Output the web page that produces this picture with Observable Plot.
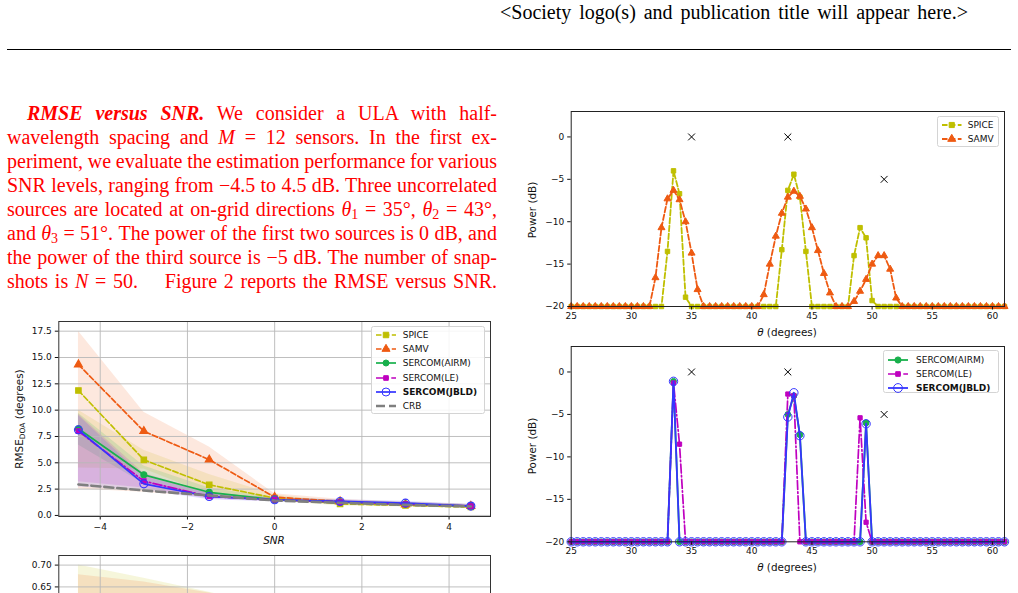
<!DOCTYPE html>
<html><head><meta charset="utf-8">
<script src="https://cdn.jsdelivr.net/npm/d3@7"></script>
<script src="https://cdn.jsdelivr.net/npm/@observablehq/plot@0.6"></script>
<style>
html,body{margin:0;padding:0;background:#fff;}
body{width:1018px;height:593px;overflow:hidden;position:relative;}
.serif{font-family:"Liberation Serif","Times New Roman",Times,serif;}
.tl{position:absolute;font-size:20px;line-height:24px;color:#f00;white-space:nowrap;}
.tl sub{font-size:14px;line-height:0;vertical-align:-3px;}
.lab{position:absolute;font-family:"DejaVu Sans",sans-serif;font-size:10.4px;color:#111;white-space:nowrap;transform:translate(-50%,-50%);}
.lab.rot{transform:translate(-50%,-50%) rotate(-90deg);}
.lab sub{font-size:7.5px;vertical-align:-2px;line-height:0;}
.leg{position:absolute;border:1px solid #d4d4d4;border-radius:2.5px;background:rgba(255,255,255,0.85);box-sizing:border-box;font-family:"DejaVu Sans",sans-serif;font-size:9px;color:#111;}
.leg .row{position:absolute;height:12px;display:flex;align-items:center;white-space:nowrap;}
.leg svg{display:block;overflow:visible;}
.chart{position:absolute;}
.chart svg{background:none !important;}
</style></head><body>

<div id="hdr" class="tl serif" style="left:500px;top:-0.5px;color:#000">&lt;Society logo(s) and publication title will appear here.&gt;</div>
<div style="position:absolute;left:7px;top:49px;width:1004px;height:1px;background:#000"></div>

<div class="tl serif para" data-left="27" data-w="470"><b><i>RMSE versus SNR.</i></b> We consider a ULA with half-</div>
<div class="tl serif para" data-left="7" data-w="490">wavelength spacing and <i>M</i> = 12 sensors. In the first ex-</div>
<div class="tl serif para" data-left="7" data-w="490">periment, we evaluate the estimation performance for various</div>
<div class="tl serif para" data-left="7" data-w="490">SNR levels, ranging from −4.5 to 4.5 dB. Three uncorrelated</div>
<div class="tl serif para" data-left="7" data-w="490">sources are located at on-grid directions <i>θ</i><sub>1</sub> = 35°, <i>θ</i><sub>2</sub> = 43°,</div>
<div class="tl serif para" data-left="7" data-w="490">and <i>θ</i><sub>3</sub> = 51°. The power of the first two sources is 0 dB, and</div>
<div class="tl serif para" data-left="7" data-w="490">the power of the third source is −5 dB. The number of snap-</div>
<div class="tl serif para" data-left="7" data-w="490">shots is <i>N</i> = 50.<span style="display:inline-block;width:20px"></span> Figure 2 reports the RMSE versus SNR.</div>

<div id="chartA" class="chart"></div>
<div id="chartD" class="chart"></div>
<div id="chartB" class="chart"></div>
<div id="chartC" class="chart"></div>

<div class="lab rot" style="left:19px;top:419px">RMSE<sub>DOA</sub> (degrees)</div>
<div class="lab" style="left:274px;top:540px"><i>SNR</i></div>
<div class="lab rot" style="left:532px;top:210px">Power (dB)</div>
<div class="lab" style="left:787px;top:331.5px"><i>θ</i> (degrees)</div>
<div class="lab rot" style="left:532px;top:446px">Power (dB)</div>
<div class="lab" style="left:787px;top:567px"><i>θ</i> (degrees)</div>

<script>
// ---------- RMSE versus SNR (left chart) ----------
const snr = [-4.5, -3, -1.5, 0, 1.5, 3, 4.5];
const snrTicks = [-4, -2, 0, 2, 4];
const rmseTicks = [0, 2.5, 5, 7.5, 10, 12.5, 15, 17.5];
const rmseSPICE = [11.87, 5.28, 2.91, 1.65, 1.10, 0.95, 0.80];
const rmseSAMV  = [14.33, 8.00, 5.30, 1.74, 1.33, 1.04, 0.89];
const rmseAIRM  = [8.23, 3.86, 2.20, 1.49, 1.27, 1.08, 0.89];
const rmseLE    = [8.00, 3.26, 1.80, 1.49, 1.27, 1.08, 0.89];
const rmseJBLD  = [8.13, 3.00, 1.80, 1.49, 1.33, 1.17, 0.89];
const rmseCRB   = [2.94, 2.37, 1.90, 1.42, 1.20, 1.00, 0.85];
const hiSPICE = [10.0, 6.2, 3.9, 1.95, 1.30, 1.10, 0.95];
const loSPICE = [4.5, 4.4, 2.0, 1.35, 0.90, 0.80, 0.65];
const hiSAMV  = [17.5, 9.8, 6.5, 2.05, 1.55, 1.25, 1.05];
const loSAMV  = [2.5, 2.2, 1.7, 1.40, 1.10, 0.85, 0.72];
const hiAIRM  = [9.7, 4.7, 2.6, 1.70, 1.45, 1.25, 1.05];
const loAIRM  = [6.7, 3.0, 1.8, 1.30, 1.10, 0.90, 0.75];
const hiLE    = [9.6, 4.0, 2.1, 1.65, 1.45, 1.25, 1.05];
const loLE    = [3.2, 2.6, 1.55, 1.30, 1.10, 0.90, 0.75];
const hiJBLD  = [9.5, 3.7, 2.1, 1.65, 1.50, 1.35, 1.05];
const loJBLD  = [2.7, 2.4, 1.5, 1.30, 1.15, 1.00, 0.75];

// ---------- partial chart below (only its top is visible) ----------
const lowTicks = [0.70, 0.65];
const hiSPICE2 = [0.700, 0.670, 0.638, 0.600, 0.580, 0.570, 0.560];
const loSPICE2 = [0.450, 0.440, 0.430, 0.420, 0.410, 0.400, 0.400];
const hiSAMV2  = [0.678, 0.661, 0.636, 0.600, 0.580, 0.570, 0.560];
const loSAMV2  = [0.450, 0.440, 0.430, 0.420, 0.410, 0.400, 0.400];

// ---------- spectra (right charts) ----------
const theta = [25,25.5,26,26.5,27,27.5,28,28.5,29,29.5,30,30.5,31,31.5,32,32.5,33,33.5,34,34.5,35,35.5,36,36.5,37,37.5,38,38.5,39,39.5,40,40.5,41,41.5,42,42.5,43,43.5,44,44.5,45,45.5,46,46.5,47,47.5,48,48.5,49,49.5,50,50.5,51,51.5,52,52.5,53,53.5,54,54.5,55,55.5,56,56.5,57,57.5,58,58.5,59,59.5,60,60.5,61];
const thetaTicks = [25, 30, 35, 40, 45, 50, 55, 60];
const powTicks = [0, -5, -10, -15, -20];
const powSPICE = [
 -20,-20,-20,-20,-20,-20,-20,-20,-20,-20,
 -20,-20,-20,-20,-20,-20,-13.5,-4.0,-6.7,-18.9,
 -20,-20,-20,-20,-20,-20,-20,-20,-20,-20,
 -20,-20,-20,-20,-20,-13.3,-6.3,-4.4,-7.1,-13.5,
 -20,-20,-20,-20,-20,-20,-20,-14.0,-10.7,-11.9,
 -19.3,-20,-20,-20,-20,-20,-20,-20,-20,-20,
 -20,-20,-20,-20,-20,-20,-20,-20,-20,-20,
 -20,-20,-20];
const powSAMV = [
 -20,-20,-20,-20,-20,-20,-20,-20,-20,-20,
 -20,-20,-20,-20,-16.6,-10.7,-7.3,-6.3,-7.4,-10.0,
 -13.7,-18.0,-20,-20,-20,-20,-20,-20,-20,-20,
 -20,-20,-18.6,-15.0,-11.7,-9.0,-7.1,-6.4,-7.0,-8.5,
 -10.7,-13.4,-16.1,-18.4,-20,-20,-20,-19.4,-18.2,-16.8,
 -15.0,-14.0,-14.0,-15.6,-19.0,-20,-20,-20,-20,-20,
 -20,-20,-20,-20,-20,-20,-20,-20,-20,-20,
 -20,-20,-20];
const powAIRM = [
 -20,-20,-20,-20,-20,-20,-20,-20,-20,-20,
 -20,-20,-20,-20,-20,-20,-20,-1.1,-20,-20,
 -20,-20,-20,-20,-20,-20,-20,-20,-20,-20,
 -20,-20,-20,-20,-20,-20,-5.0,-2.8,-7.4,-20,
 -20,-20,-20,-20,-20,-20,-20,-20,-20,-6.0,
 -20,-20,-20,-20,-20,-20,-20,-20,-20,-20,
 -20,-20,-20,-20,-20,-20,-20,-20,-20,-20,
 -20,-20,-20];
const powLE = [
 -20,-20,-20,-20,-20,-20,-20,-20,-20,-20,
 -20,-20,-20,-20,-20,-20,-20,-1.3,-8.5,-20,
 -20,-20,-20,-20,-20,-20,-20,-20,-20,-20,
 -20,-20,-20,-20,-20,-20,-2.6,-2.8,-20,-20,
 -20,-20,-20,-20,-20,-20,-20,-20,-5.4,-17.7,
 -20,-20,-20,-20,-20,-20,-20,-20,-20,-20,
 -20,-20,-20,-20,-20,-20,-20,-20,-20,-20,
 -20,-20,-20];
const powJBLD = [
 -20,-20,-20,-20,-20,-20,-20,-20,-20,-20,
 -20,-20,-20,-20,-20,-20,-20,-1.1,-20,-20,
 -20,-20,-20,-20,-20,-20,-20,-20,-20,-20,
 -20,-20,-20,-20,-20,-20,-5.3,-2.45,-7.5,-20,
 -20,-20,-20,-20,-20,-20,-20,-20,-20,-6.1,
 -20,-20,-20,-20,-20,-20,-20,-20,-20,-20,
 -20,-20,-20,-20,-20,-20,-20,-20,-20,-20,
 -20,-20,-20];
const doaTrue = [35, 43, 51];
const doaPower = [0, 0, -5];

const C = {spice:"#bfbf00", samv:"#ee5a12", airm:"#18b04c", le:"#bf00bf", jbld:"#3535ff", crb:"#7f7f7f"};
const DASH = "5.5,2.4", DASHDOT = "9,2.4,1.5,2.4", CRBDASH = "9,4";

// ---- text justification (fit each line to its measured width) ----
const lines = document.querySelectorAll(".para");
lines.forEach((el, k) => {
  el.style.left = el.dataset.left + "px";
  el.style.top = (100.75 + 24 * k) + "px";
});
function fit(el, target) {
  el.style.wordSpacing = "0px";
  const w = el.getBoundingClientRect().width;
  const n = (el.textContent.match(/ /g) || []).length;
  if (n) el.style.wordSpacing = ((target - w) / n) + "px";
}
lines.forEach(el => fit(el, +el.dataset.w));
fit(document.getElementById("hdr"), 468);

function place(id, left, top, node) {
  const d = document.getElementById(id);
  d.style.left = left + "px"; d.style.top = top + "px";
  d.appendChild(node);
}
const baseStyle = {fontFamily: "DejaVu Sans, sans-serif", fontSize: "9px", color: "#111", background: "none", overflow: "visible"};

// ---- chart A ----
const seriesA = [
  {name: "SPICE", y: rmseSPICE, lo: loSPICE, hi: hiSPICE, color: C.spice, dash: DASH, sw: 1.7, symbol: "square", r: 3.1, fill: C.spice},
  {name: "SAMV", y: rmseSAMV, lo: loSAMV, hi: hiSAMV, color: C.samv, dash: DASH, sw: 1.7, symbol: "triangle", r: 3.0, fill: C.samv},
  {name: "SERCOM(AIRM)", y: rmseAIRM, lo: loAIRM, hi: hiAIRM, color: C.airm, dash: null, sw: 1.7, symbol: "circle", r: 3.0, fill: C.airm},
  {name: "SERCOM(LE)", y: rmseLE, lo: loLE, hi: hiLE, color: C.le, dash: DASHDOT, sw: 1.7, symbol: "square", r: 2.6, fill: C.le},
  {name: "SERCOM(JBLD)", y: rmseJBLD, lo: loJBLD, hi: hiJBLD, color: C.jbld, dash: null, sw: 1.7, symbol: "circle", r: 4.0, fill: "none", bold: true},
  {name: "CRB", y: rmseCRB, color: C.crb, dash: CRBDASH, sw: 2.6, symbol: null}
];
const rowsOf = (xs, s) => xs.map((x, i) => ({x, y: s.y[i], lo: s.lo ? s.lo[i] : null, hi: s.hi ? s.hi[i] : null}));

const chartA = Plot.plot({
  width: 510, height: 250, marginLeft: 58.3, marginRight: 20, marginTop: 21, marginBottom: 34,
  style: baseStyle,
  x: {domain: [-4.95, 4.95]},
  y: {domain: [-0.1, 18.42]},
  marks: [
    ...seriesA.filter(s => s.lo).map(s => Plot.areaY(rowsOf(snr, s), {x: "x", y1: "lo", y2: "hi", fill: s.color, fillOpacity: 0.14})),
    Plot.gridX({ticks: snrTicks, stroke: "#b8b8b8", strokeOpacity: 1, strokeWidth: 0.9}),
    Plot.gridY({ticks: rmseTicks, stroke: "#b8b8b8", strokeOpacity: 1, strokeWidth: 0.9}),
    ...seriesA.flatMap(s => {
      const data = rowsOf(snr, s);
      const m = [Plot.line(data, {x: "x", y: "y", stroke: s.color, strokeWidth: s.sw, strokeDasharray: s.dash || undefined})];
      if (s.symbol) m.push(Plot.dot(data, {x: "x", y: "y", symbol: s.symbol, r: s.r, fill: s.fill, stroke: s.color, strokeWidth: 1.1}));
      return m;
    }),
    Plot.axisX({ticks: snrTicks, tickSize: 3.5, tickPadding: 3.5, label: null}),
    Plot.axisY({ticks: rmseTicks, tickFormat: d3.format(".1f"), tickSize: 3.5, tickPadding: 3.5, label: null}),
    Plot.frame({stroke: "#333", strokeWidth: 1})
  ]
});
place("chartA", 0, 300, chartA);

// ---- chart D (partial, bottom-left; only its top is inside the window) ----
const seriesD = [
  {hi: hiSPICE2, lo: loSPICE2, color: C.spice},
  {hi: hiSAMV2, lo: loSAMV2, color: C.samv}
];
const chartD = Plot.plot({
  width: 510, height: 120, marginLeft: 58.3, marginRight: 20, marginTop: 5, marginBottom: 0,
  style: baseStyle,
  x: {domain: [-4.95, 4.95], axis: null},
  y: {domain: [0.4584, 0.722], axis: null},
  marks: [
    ...seriesD.map(s => Plot.areaY(snr.map((x, i) => ({x, lo: s.lo[i], hi: s.hi[i]})), {x: "x", y1: "lo", y2: "hi", fill: s.color, fillOpacity: 0.14})),
    Plot.gridX({ticks: snrTicks, stroke: "#b8b8b8", strokeOpacity: 1, strokeWidth: 0.9}),
    Plot.gridY({ticks: lowTicks, stroke: "#b8b8b8", strokeOpacity: 1, strokeWidth: 0.9}),
    Plot.axisY({ticks: lowTicks, tickFormat: d3.format(".2f"), tickSize: 3.5, tickPadding: 3.5, label: null}),
    Plot.frame({stroke: "#333", strokeWidth: 1})
  ]
});
place("chartD", 0, 550, chartD);

// ---- spectrum charts ----
function spectrum(series, mt, mb, h) {
  return Plot.plot({
    width: 503, height: h, marginLeft: 55.7, marginRight: 14, marginTop: mt, marginBottom: mb,
    style: baseStyle,
    x: {domain: [25, 61]},
    y: {domain: [-20, 3]},
    marks: [
      ...series.flatMap(s => {
        const data = theta.map((t, i) => ({x: t, y: s.y[i]}));
        return [
          Plot.line(data, {x: "x", y: "y", stroke: s.color, strokeWidth: s.sw, strokeDasharray: s.dash || undefined}),
          Plot.dot(data, {x: "x", y: "y", symbol: s.symbol, r: s.r, fill: s.fill, stroke: s.color, strokeWidth: 1})
        ];
      }),
      Plot.dot(doaTrue.map((t, i) => ({x: t, y: doaPower[i]})), {x: "x", y: "y", symbol: "times", r: 3.2, stroke: "#000", strokeWidth: 1}),
      Plot.axisX({ticks: thetaTicks, tickSize: 3.5, tickPadding: 2.5, label: null}),
      Plot.axisY({ticks: powTicks, tickSize: 3.5, tickPadding: 3.5, label: null}),
      Plot.frame({stroke: "#222", strokeWidth: 1})
    ]
  });
}
const seriesB = [
  {name: "SPICE", y: powSPICE, color: C.spice, dash: DASH, sw: 1.8, symbol: "square", r: 2.5, fill: C.spice},
  {name: "SAMV", y: powSAMV, color: C.samv, dash: DASH, sw: 1.8, symbol: "triangle", r: 2.6, fill: C.samv}
];
const seriesC = [
  {name: "SERCOM(AIRM)", y: powAIRM, color: C.airm, dash: null, sw: 1.8, symbol: "circle", r: 2.9, fill: C.airm},
  {name: "SERCOM(LE)", y: powLE, color: C.le, dash: DASHDOT, sw: 1.7, symbol: "square", r: 2.4, fill: C.le},
  {name: "SERCOM(JBLD)", y: powJBLD, color: C.jbld, dash: null, sw: 1.8, symbol: "circle", r: 4.2, fill: "none", bold: true}
];
place("chartB", 515, 95, spectrum(seriesB, 16, 29, 240));
place("chartC", 515, 336, spectrum(seriesC, 10, 38.7, 244));

// ---- legends ----
const symMap = {square: d3.symbolSquare, triangle: d3.symbolTriangle, circle: d3.symbolCircle};
function legend(left, top, w, h, series, rows, lineX, lineLen, textX) {
  const box = document.createElement("div");
  box.className = "leg";
  Object.assign(box.style, {left: left + "px", top: top + "px", width: w + "px", height: h + "px"});
  series.forEach((s, i) => {
    const row = document.createElement("div");
    row.className = "row";
    row.style.top = (rows[i] - 6) + "px";
    row.style.left = lineX + "px";
    let mk = "";
    if (s.symbol) {
      const d = d3.symbol(symMap[s.symbol], Math.PI * s.lr * s.lr)();
      mk = `<path transform="translate(${lineLen / 2},6)" d="${d}" fill="${s.fill}" stroke="${s.color}" stroke-width="1"/>`;
    }
    row.innerHTML = `<svg width="${lineLen}" height="12"><line x1="0" x2="${lineLen}" y1="6" y2="6" stroke="${s.color}" stroke-width="${s.sw}" ${s.dash ? `stroke-dasharray="${s.dash}"` : ""}/>${mk}</svg>` +
      `<span style="margin-left:${textX - lineX - lineLen}px;${s.bold ? "font-weight:bold" : ""}">${s.name}</span>`;
    box.appendChild(row);
  });
  document.body.appendChild(box);
}
seriesA.forEach(s => s.lr = s.r);
seriesB.forEach(s => s.lr = s.r + 0.4);
seriesC.forEach(s => s.lr = s.r + 0.2);
legend(370.7, 326, 114.3, 88.3, seriesA, [8, 22.2, 36.4, 50.6, 64.8, 79], 4.3, 20, 31);
legend(936.7, 116, 62.6, 30.7, seriesB, [8, 21.7], 4, 19.5, 30);
legend(883.3, 350, 116, 43.3, seriesC, [9, 22.7, 36.5], 3.4, 20, 31.7);
</script>
</body></html>
